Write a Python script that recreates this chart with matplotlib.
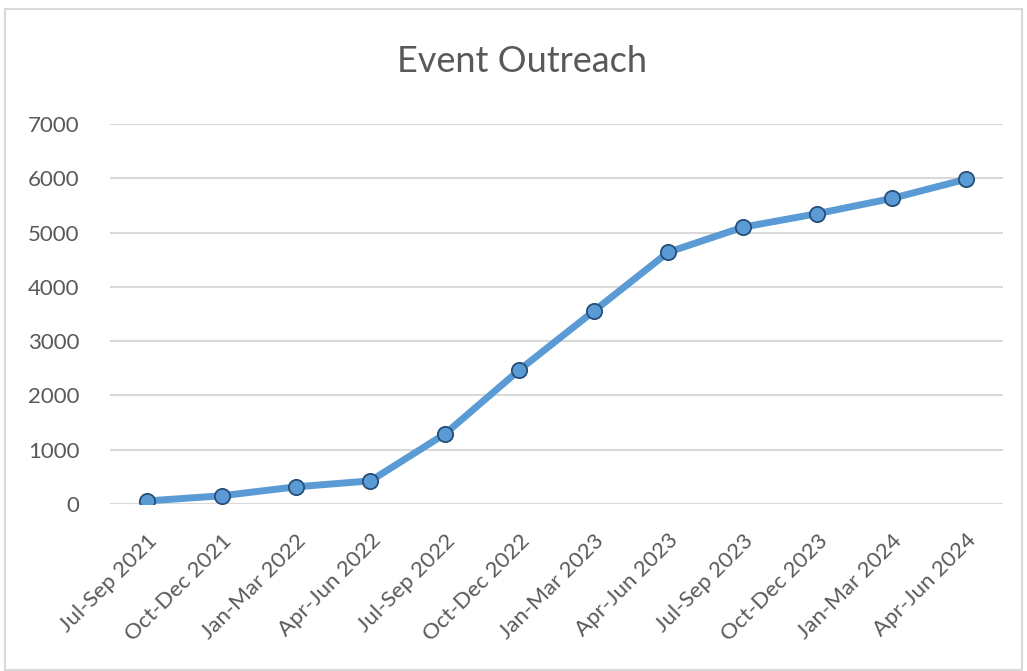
import matplotlib.pyplot as plt
from matplotlib.patches import Rectangle

quarters = ["Jul-Sep 2021", "Oct-Dec 2021", "Jan-Mar 2022", "Apr-Jun 2022",
            "Jul-Sep 2022", "Oct-Dec 2022", "Jan-Mar 2023", "Apr-Jun 2023",
            "Jul-Sep 2023", "Oct-Dec 2023", "Jan-Mar 2024", "Apr-Jun 2024"]
outreach = [55, 150, 315, 425, 1290, 2470, 3555, 4640, 5100, 5350, 5630, 5985]
yticks = [0, 1000, 2000, 3000, 4000, 5000, 6000, 7000]

plt.rcParams['font.family'] = ['Lato', 'DejaVu Sans']
grey = '#595959'

fig = plt.figure(figsize=(10.27, 6.71), dpi=100)
ax = fig.add_axes([0.107, 0.249, 0.870, 0.566])

x = list(range(len(quarters)))
ax.plot(x, outreach, color='#5B9BD5', linewidth=5, marker='o', markersize=11,
        markerfacecolor='#5B9BD5', markeredgecolor='#264E78', markeredgewidth=1.3,
        solid_capstyle='round', zorder=3)

ax.set_xlim(-0.5, len(quarters) - 0.5)
ax.set_ylim(0, 7000)
ax.set_yticks(yticks)
ax.set_xticks(x)
ax.set_xticklabels(quarters, rotation=45, ha='right', rotation_mode='anchor')
ax.tick_params(axis='both', length=0, labelsize=16, colors=grey)
ax.tick_params(axis='y', pad=22)
ax.tick_params(axis='x', pad=19)
ax.grid(axis='y', color='#D9D9D9', linewidth=1.5)
ax.set_axisbelow(True)
for s in ax.spines.values():
    s.set_visible(False)

fig.text(0.508, 0.908, "Event Outreach", ha='center', va='center',
         fontsize=26, color=grey)

# light frame around chart area
fig.patches.append(Rectangle((0.005, 0.002), 0.99, 0.985, transform=fig.transFigure,
                             fill=False, edgecolor='#D9D9D9', linewidth=1.5))

fig.savefig('out.png', dpi=100, facecolor='white')
